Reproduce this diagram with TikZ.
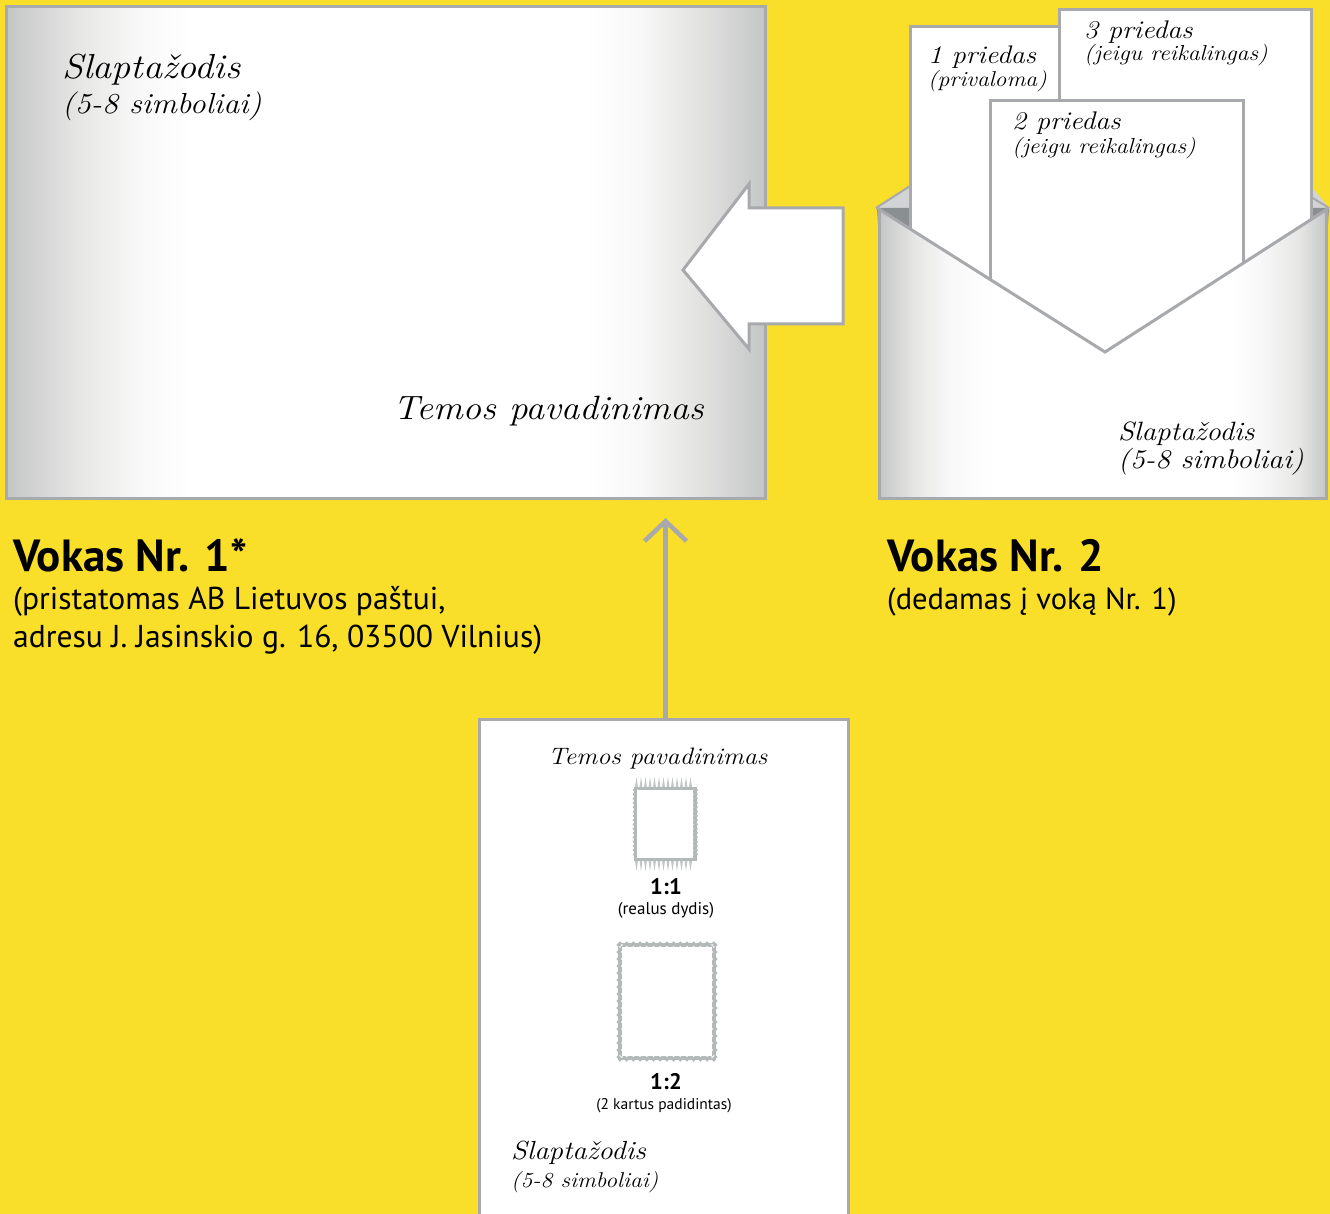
\documentclass[tikz,border=0pt]{standalone}
\usepackage{fontspec}
\setmainfont{PT Sans}
\newfontfamily\hwfont[FakeStretch=1.1]{Latin Modern Roman}
\usetikzlibrary{arrows.meta}
\definecolor{bgyellow}{HTML}{F9DE2A}
\definecolor{edgegrey}{HTML}{A7A9AC}
\definecolor{stampgrey}{HTML}{B3B8B8}
\definecolor{flapgrey}{HTML}{D1D3D4}
\definecolor{darkgrey}{HTML}{8A8F92}
\definecolor{shA}{HTML}{C4C5C5}
\definecolor{shB}{HTML}{E6E7E5}
\definecolor{shC}{HTML}{F8F8F8}
\pgfdeclarehorizontalshading{envone}{100bp}{color(0bp)=(shA); color(25bp)=(shA); color(29.8bp)=(shB); color(33.8bp)=(shC); color(37.1bp)=(white); color(63.1bp)=(white); color(66.7bp)=(shC); color(70bp)=(shB); color(75bp)=(shA); color(100bp)=(shA)}
\pgfdeclarehorizontalshading{envtwo}{100bp}{color(0bp)=(shA); color(25bp)=(shA); color(29bp)=(shB); color(32.9bp)=(shC); color(37.9bp)=(white); color(64.2bp)=(white); color(67.5bp)=(shC); color(72bp)=(shB); color(75bp)=(shA); color(100bp)=(shA)}
\tikzset{
  x=1pt,y=-1pt,
  outline/.style={draw=edgegrey,line width=3pt,line join=miter},
  sheet/.style={outline,fill=white},
  hw/.style={anchor=base west,inner sep=0pt,align=left,text=black,font=\hwfont\itshape\fontsize{#1}{#1}\selectfont},
  sans/.style={anchor=base west,inner sep=0pt,align=left,text=black,font=\fontsize{#1}{#1}\selectfont},
  title/.style={anchor=base west,inner sep=0pt,text=black,font=\bfseries\fontsize{45}{45}\selectfont},
  caption/.style={anchor=base,inner sep=0pt,text=black,font=\fontsize{#1}{#1}\selectfont},
  ratio/.style={anchor=base,inner sep=0pt,text=black,font=\bfseries\fontsize{22.5}{22.5}\selectfont},
  bigcard/.style={sheet,inner sep=0pt,minimum width=369pt,minimum height=520pt},
  spike/.style={fill=stampgrey!80!white,draw=none},
  stampedge/.style={draw=stampgrey,line width=3.6pt,fill=white},
}
\begin{document}
\begin{tikzpicture}
\useasboundingbox (0,0) rectangle (1330,1214);
\fill[bgyellow] (0,0) rectangle (1330,1214);

% envelope 1
\path[shading=envone] (6,7) rectangle (765.5,498);
\draw[outline] (6,7) rectangle (765.5,498);
\node[hw=34.7] (pw1) at (62,79) {Slaptažodis};
\node[hw=29] (pw1b) at (62,114) {(5-8 simboliai)};
\node[hw=33.7] (topic1) at (393,419.5) {Temos pavadinimas};

% block arrow
\draw[sheet] (843,208) -- (749,208) -- (749,184) -- (683,270) -- (749,349) -- (749,324) -- (843,324) -- cycle;

% envelope 2, back
\fill[flapgrey] (876,208) -- (910,186) -- (1311,186) -- (1329,208) -- cycle;
\draw[edgegrey,line width=2pt] (876,208) -- (910,186);
\draw[edgegrey,line width=2pt] (1311,197) -- (1329,208);
\fill[darkgrey] (877,208) -- (1329,208) -- (1327,240) -- (879,240) -- cycle;

% enclosures
\draw[sheet] (910,27) rectangle (1070,300);
\node[hw=25.4] (a1) at (928,63.5) {1 priedas};
\node[hw=21.5] (a1b) at (928,87) {(privaloma)};
\draw[sheet] (1059,10) rectangle (1311,300);
\node[hw=25.5] (a3) at (1084,39) {3 priedas};
\node[hw=21.7] (a3b) at (1084,61) {(jeigu reikalingas)};
\draw[sheet] (990,100.5) rectangle (1243,400);
\node[hw=25.5] (a2) at (1012,130) {2 priedas};
\node[hw=21.7] (a2b) at (1012,154) {(jeigu reikalingas)};

% envelope 2, front
\path[shading=envtwo] (879,208) -- (1105,352) -- (1326.5,208) -- (1326.5,498) -- (879,498) -- cycle;
\draw[outline] (877,208) -- (1105,352) -- (1329,208);
\draw[outline] (879,208) -- (879,498) -- (1326.5,498) -- (1326.5,208);
\node[hw=26.5] (pw2) at (1118,440.5) {Slaptažodis};
\node[hw=27] (pw2b) at (1118,468.5) {(5-8 simboliai)};

% captions
\node[title] (t1) at (13,571) {Vokas Nr. 1*};
\node[sans=31.6] (t1a) at (13,609) {(pristatomas AB Lietuvos paštui,};
\node[sans=31.6] (t1b) at (13,647) {adresu J. Jasinskio g. 16, 03500 Vilnius)};
\node[title] (t2) at (887,571) {Vokas Nr. 2};
\node[sans=30.5] (t2a) at (887,609) {(dedamas į voką Nr. 1)};

% card
\node[bigcard,anchor=north west] (card) at (478,717.5) {};
\coordinate (tip) at (665.5,518);
\draw[edgegrey,line width=5pt,-{Straight Barb[length=20pt,width=42pt,line width=4.5pt]}] (card.north -| tip) -- (tip);

\node[hw=23.8] (topic2) at (548,764.5) {Temos pavadinimas};

% stamp 1:1
\foreach \sx in {636.5,641,...,694}{
  \fill[spike] (\sx-1.6,788) -- (\sx,777) -- (\sx+1.6,788) -- cycle;
  \fill[spike] (\sx-1.6,860) -- (\sx,871) -- (\sx+1.6,860) -- cycle;
}
\draw[stampedge] (635.5,788.5) rectangle (695,859.5);
\foreach \sy in {790,794.3,...,858}{
  \fill[stampgrey] (633.7,\sy) circle (1.2);
  \fill[stampgrey] (696.8,\sy) circle (1.2);
  \fill[white] (637.4,\sy) circle (.6);
  \fill[white] (693.1,\sy) circle (.6);
}
\node[ratio] (r1) at (666,894) {1:1};
\node[caption=17] (r1b) at (666,914) {(realus dydis)};

% stamp 1:2
\draw[stampedge] (620,945) rectangle (714,1058);
\foreach \sx in {620,626.7,...,715}{
  \fill[stampgrey] (\sx,943.2) circle (1.9);
  \fill[stampgrey] (\sx,1059.8) circle (1.9);
  \fill[white] (\sx,946.9) circle (1);
  \fill[white] (\sx,1056.1) circle (1);
}
\foreach \sy in {945,952,...,1059}{
  \fill[stampgrey] (618.2,\sy) circle (1.9);
  \fill[stampgrey] (715.8,\sy) circle (1.9);
  \fill[white] (621.9,\sy) circle (1);
  \fill[white] (712.1,\sy) circle (1);
}
\node[ratio] (r2) at (666,1089) {1:2};
\node[caption=15.5] (r2b) at (664,1109) {(2 kartus padidintas)};

\node[hw=26.2] (pw3) at (511,1159.5) {Slaptažodis};
\node[hw=21.4] (pw3b) at (511,1187.5) {(5-8 simboliai)};
\end{tikzpicture}
\end{document}
